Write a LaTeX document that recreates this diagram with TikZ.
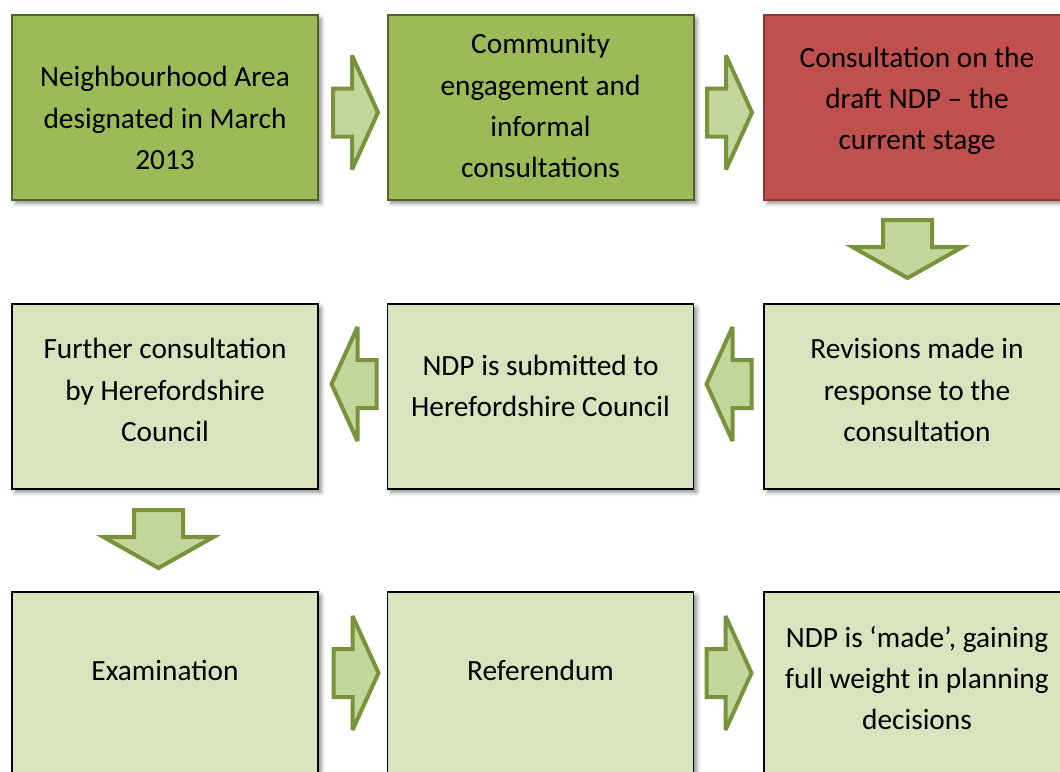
\documentclass[tikz,border=0pt]{standalone}
\usepackage{fontspec}
\setmainfont{Carlito}
\usetikzlibrary{shadows.blur}
\definecolor{gfill}{HTML}{9BBB59}
\definecolor{gdraw}{HTML}{4F6228}
\definecolor{lfill}{HTML}{D7E4BD}
\definecolor{rfill}{HTML}{C0504D}
\definecolor{rdraw}{HTML}{8C3836}
\definecolor{afill}{HTML}{C3D69B}
\definecolor{adraw}{HTML}{77933C}
\begin{document}
\begin{tikzpicture}[x=0.75pt,y=-0.75pt,
  box/.style={rectangle, minimum width=229.5pt, minimum height=138.75pt, inner sep=0pt,
    blur shadow={shadow xshift=2.5pt, shadow yshift=-2.5pt, shadow blur radius=3pt, shadow opacity=45}},
  gbox/.style={box, fill=gfill, draw=gdraw, line width=1.5pt},
  rbox/.style={box, fill=rfill, draw=rdraw, line width=1.5pt},
  lbox/.style={box, fill=lfill, draw=black, line width=1.1pt},
  txt/.style={align=center, font=\fontsize{22}{31}\selectfont, inner sep=0pt},
  arrowsty/.style={fill=afill, draw=adraw, line width=3pt, line join=miter, miter limit=4},
  harrow/.pic={\draw[arrowsty] (-22.5,-24) -- (-3.5,-24) -- (-3.5,-57) -- (22.5,0) -- (-3.5,57) -- (-3.5,24) -- (-22.5,24) -- cycle;},
  varrow/.pic={\draw[arrowsty] (-24.5,-29) -- (24.5,-29) -- (24.5,-2) -- (55,-2) -- (0,29) -- (-55,-2) -- (-24.5,-2) -- cycle;}
]
\useasboundingbox (0,0) rectangle (1060,771);
\clip (0,0) rectangle (1060,771);
% boxes
\node[gbox] (b1) at (165,107.5) {};
\node[gbox] (b2) at (540.5,107.5) {};
\node[rbox] (b3) at (917,107.5) {};
\node[lbox] (b4) at (165,396.5) {};
\node[lbox] (b5) at (540.5,396.5) {};
\node[lbox] (b6) at (917,396.5) {};
\node[lbox] (b7) at (165,684.5) {};
\node[lbox] (b8) at (540.5,684.5) {};
\node[lbox] (b9) at (917,684.5) {};
% texts
\node[txt] (t1) at (165,118) {Neighbourhood Area\\designated in March\\2013};
\node[txt] (t2) at (540.5,106) {Community\\engagement and\\informal\\consultations};
\node[txt] (t3) at (917,101) {Consultation on the\\draft NDP – the\\current stage};
\node[txt] (t4) at (165,390) {Further consultation\\by Herefordshire\\Council};
\node[txt] (t5) at (540.5,386) {NDP is submitted to\\Herefordshire Council};
\node[txt] (t6) at (917,390) {Revisions made in\\response to the\\consultation};
\node[txt] (t7) at (165,670) {Examination};
\node[txt] (t8) at (540.5,670) {Referendum};
\node[txt] (t9) at (917,678) {NDP is ‘made’, gaining\\full weight in planning\\decisions};
% block arrows
\pic at (355.5,112.5) {harrow};
\pic at (729.5,112.5) {harrow};
\pic at (907.5,249) {varrow};
\pic[rotate=180] at (729,384) {harrow};
\pic[rotate=180] at (354,384) {harrow};
\pic at (158.5,539) {varrow};
\pic at (356,673) {harrow};
\pic at (729,673) {harrow};
\end{tikzpicture}
\end{document}
